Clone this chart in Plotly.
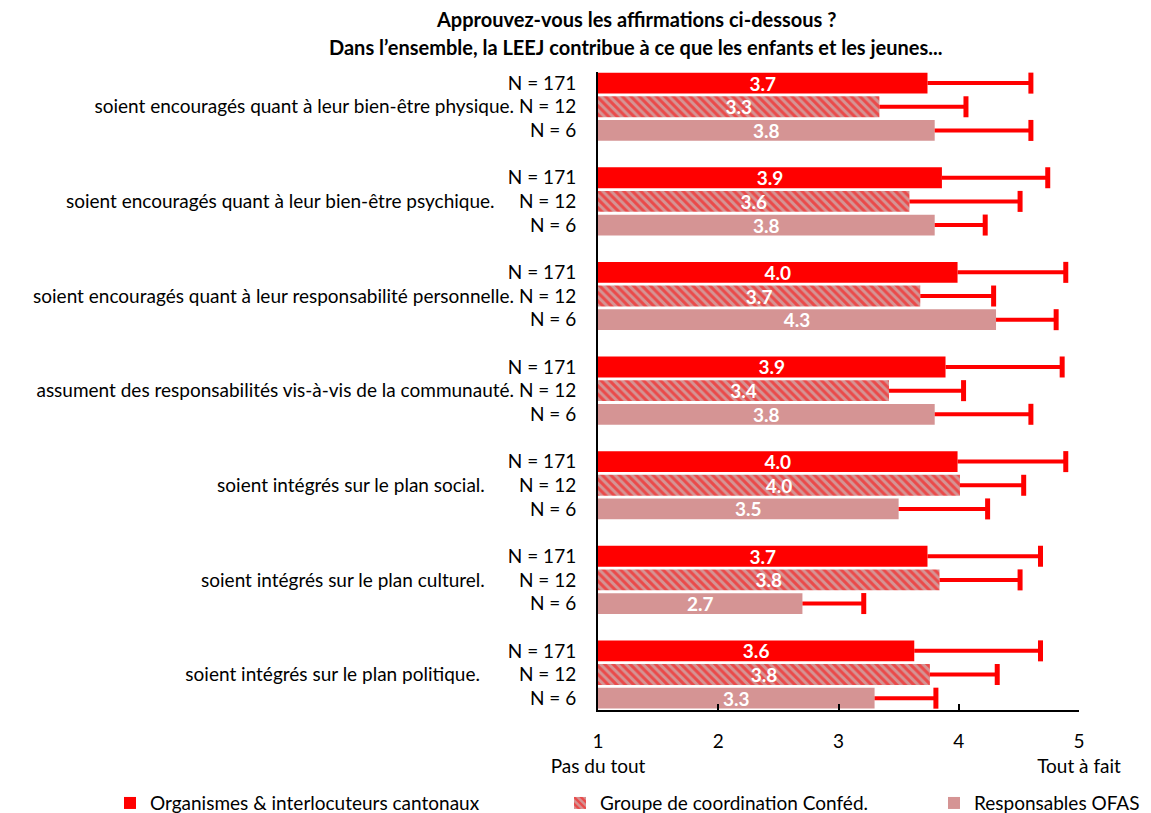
import plotly.graph_objects as go

categories = [
    "soient encouragés quant à leur bien-être physique.",
    "soient encouragés quant à leur bien-être psychique.",
    "soient encouragés quant à leur responsabilité personnelle.",
    "assument des responsabilités vis-à-vis de la communauté.",
    "soient intégrés sur le plan social.",
    "soient intégrés sur le plan culturel.",
    "soient intégrés sur le plan politique.",
]
# trailing spaces after each statement, as in the source labels
label_pad = [1, 5, 1, 1, 7, 7, 8]
n_labels = ["N = 171", "N = 12", "N = 6"]
series_names = [
    "Organismes & interlocuteurs cantonaux",
    "Groupe de coordination Conféd.",
    "Responsables OFAS",
]

cantonaux = [3.74, 3.86, 3.99, 3.89, 3.99, 3.74, 3.63]
cantonaux_sd = [0.86, 0.88, 0.90, 0.97, 0.90, 0.94, 1.05]
confed = [3.34, 3.59, 3.68, 3.42, 4.01, 3.84, 3.76]
confed_sd = [0.72, 0.92, 0.61, 0.62, 0.53, 0.67, 0.56]
ofas = [3.80, 3.80, 4.31, 3.80, 3.50, 2.70, 3.30]
ofas_sd = [0.80, 0.42, 0.50, 0.80, 0.74, 0.51, 0.51]

x_ticks = [1, 2, 3, 4, 5]
x_ticktext = ["1<br>Pas du tout", "2", "3", "4", "5<br>Tout à fait"]

FONT = "Lato, 'Noto Sans', sans-serif"
RED = "#ff0000"
PINK = "#d59494"

series = [
    (cantonaux, cantonaux_sd, dict(color=RED)),
    (confed, confed_sd, dict(color=RED, pattern=dict(shape="\\", fgcolor=RED,
                                                       bgcolor=PINK, size=6,
                                                       solidity=0.5))),
    (ofas, ofas_sd, dict(color=PINK)),
]
legend_ids = ["legend", "legend2", "legend3"]
legend_x = [0.0886, 0.4796, 0.8045]

fig = go.Figure()
tickvals, ticktext = [], []
for k, (vals, sd, marker) in enumerate(series):
    ys = [4 * g + k for g in range(len(categories))]
    fig.add_trace(go.Bar(
        y=ys,
        x=[v - 1 for v in vals],
        base=1,
        orientation="h",
        width=0.88,
        marker=marker,
        marker_line_width=0,
        name=series_names[k],
        legend=legend_ids[k],
        customdata=vals,
        texttemplate="%{customdata:.1f}",
        textposition="inside",
        insidetextanchor="middle",
        constraintext="none",
        textangle=0,
        insidetextfont=dict(color="white", size=19, family=FONT, weight="bold"),
        error_x=dict(type="data", array=sd, arrayminus=[0] * len(sd),
                     symmetric=False, color=RED, thickness=4, width=0),
    ))
    # end caps of the error bars
    fig.add_trace(go.Scatter(
        y=ys,
        x=[v + s for v, s in zip(vals, sd)],
        mode="markers",
        marker=dict(symbol="line-ns", size=15, line=dict(color=RED, width=5)),
        showlegend=False,
        hoverinfo="skip",
    ))

for g, cat in enumerate(categories):
    for k, n in enumerate(n_labels):
        tickvals.append(4 * g + k)
        if k == 1:
            ticktext.append(cat + "\u00a0" * label_pad[g] + n)
        else:
            ticktext.append(n)

legend_style = dict(orientation="h", xref="container", yref="container",
                    xanchor="left", y=0.022, yanchor="middle",
                    font=dict(size=19), bgcolor="rgba(0,0,0,0)")

fig.update_layout(
    width=1151,
    height=813,
    margin=dict(l=590, r=80, t=64, b=111, autoexpand=False),
    plot_bgcolor="white",
    paper_bgcolor="white",
    font=dict(family=FONT, size=19, color="black"),
    barmode="overlay",
    showlegend=True,
    legend=dict(x=legend_x[0], **legend_style),
    legend2=dict(x=legend_x[1], **legend_style),
    legend3=dict(x=legend_x[2], **legend_style),
    annotations=[
        dict(text="<b>Approuvez-vous les affirmations ci-dessous ?</b>",
             xref="paper", yref="paper", x=0.079, y=1.0831,
             xanchor="center", yanchor="middle", showarrow=False,
             font=dict(size=20)),
        dict(text="<b>Dans l’ensemble, la LEEJ contribue à ce que les enfants et les jeunes...</b>",
             xref="paper", yref="paper", x=0.079, y=1.0392,
             xanchor="center", yanchor="middle", showarrow=False,
             font=dict(size=20)),
    ],
)

fig.update_xaxes(
    range=[1, 5],
    tickvals=x_ticks,
    ticktext=x_ticktext,
    ticks="inside",
    ticklen=6,
    tickwidth=2,
    tickcolor="black",
    showline=True,
    linecolor="black",
    linewidth=2,
    showgrid=False,
    zeroline=False,
    ticklabelstandoff=13,
)
fig.update_yaxes(
    range=[26.5, -0.47],
    tickvals=tickvals,
    ticktext=ticktext,
    ticks="",
    showline=True,
    linecolor="black",
    linewidth=2,
    showgrid=False,
    zeroline=False,
    ticklabelstandoff=16,
)

fig.write_html("out.html")
